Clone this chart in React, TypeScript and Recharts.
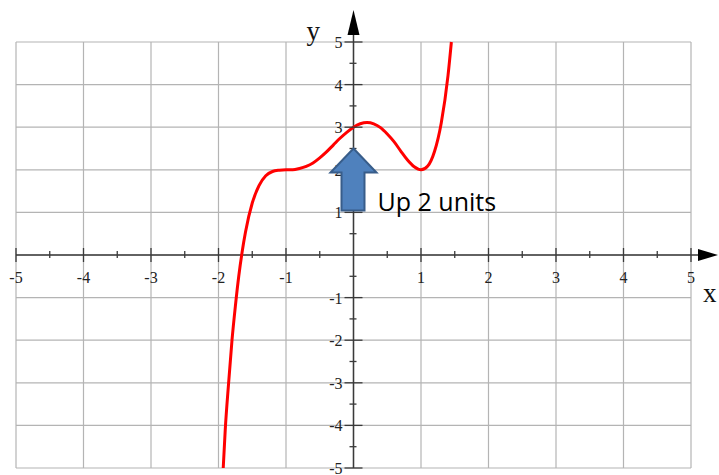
import { LineChart, Line, XAxis, YAxis, CartesianGrid, ReferenceLine, ReferenceDot } from 'recharts';

const W = 719;
const H = 475;

// curve
const X_VALS = [-1.93, -1.9, -1.85, -1.8, -1.75, -1.7, -1.65, -1.6, -1.5, -1.4, -1.3, -1.2, -1.1, -1.0, -0.9, -0.8, -0.7, -0.6, -0.5, -0.4, -0.3, -0.2, -0.1, 0, 0.1, 0.2, 0.3, 0.4, 0.5, 0.6, 0.7, 0.8, 0.9, 1.0, 1.1, 1.2, 1.3, 1.4, 1.45];
const Y_VALS = [-5, -4.1, -3.0, -2.0, -1.2, -0.5, 0.07, 0.54, 1.22, 1.63, 1.86, 1.96, 1.99, 2.0, 2.0, 2.03, 2.08, 2.16, 2.28, 2.42, 2.58, 2.74, 2.88, 3.0, 3.08, 3.11, 3.08, 2.99, 2.84, 2.66, 2.44, 2.23, 2.07, 2.0, 2.09, 2.43, 3.1, 4.21, 5.0];

const GRID_TICKS = [-5, -4, -3, -2, -1, 0, 1, 2, 3, 4, 5];
const LABEL_TICKS = [-5, -4, -3, -2, -1, 1, 2, 3, 4, 5];
const HALF_TICKS = [-4.5, -3.5, -2.5, -1.5, -0.5, 0.5, 1.5, 2.5, 3.5, 4.5];

const data = X_VALS.map((x, i) => ({ x, y: Y_VALS[i] }));

const AXIS = '#3a3a3a';
const SERIF = '"Liberation Serif", "Times New Roman", serif';

function XTick({ cx, cy, label }: any) {
  return (
    <g>
      <line x1={cx} x2={cx} y1={cy - 7} y2={cy + 7} stroke={AXIS} strokeWidth={1.3} />
      <text x={cx} y={cy + 28} textAnchor="middle" fontFamily={SERIF} fontSize={16} fill="#222">{label}</text>
    </g>
  );
}

function YTick({ cx, cy, label }: any) {
  return (
    <g>
      <line x1={cx - 9} x2={cx + 9} y1={cy} y2={cy} stroke={AXIS} strokeWidth={1.3} />
      <text x={cx - 11} y={cy + 6} textAnchor="end" fontFamily={SERIF} fontSize={16} fill="#222">{label}</text>
    </g>
  );
}

function MinorX({ cx, cy }: any) {
  return <line x1={cx} x2={cx} y1={cy - 4} y2={cy + 3} stroke={AXIS} strokeWidth={1.3} />;
}

function MinorY({ cx, cy }: any) {
  return <line x1={cx - 4} x2={cx + 3} y1={cy} y2={cy} stroke={AXIS} strokeWidth={1.3} />;
}

function YArrow({ cx, cy }: any) {
  return (
    <g>
      <line x1={cx} x2={cx} y1={cy} y2={cy - 8} stroke={AXIS} strokeWidth={1.5} />
      <polygon points={`${cx - 6},${cy - 7} ${cx + 6},${cy - 7} ${cx},${cy - 32}`} fill="#000" />
      <text x={cx - 47} y={cy - 2} fontFamily={SERIF} fontSize={27} fill="#111">y</text>
    </g>
  );
}

function XArrow({ cx, cy }: any) {
  return (
    <g>
      <line x1={cx} x2={cx + 8} y1={cy} y2={cy} stroke={AXIS} strokeWidth={1.5} />
      <polygon points={`${cx + 7},${cy - 6} ${cx + 7},${cy + 6} ${cx + 27},${cy}`} fill="#000" />
      <text x={cx + 12} y={cy + 47} fontFamily={SERIF} fontSize={27} fill="#111">x</text>
    </g>
  );
}

// "Up 2 units" block arrow, tip at (cx, cy)
function UpArrow({ cx, cy }: any) {
  const pts = [
    [cx, cy],
    [cx + 23, cy + 24],
    [cx + 11, cy + 24],
    [cx + 11, cy + 62],
    [cx - 12, cy + 62],
    [cx - 12, cy + 24],
    [cx - 23, cy + 24],
  ].map(p => p.join(',')).join(' ');
  return (
    <g>
      <polygon points={pts} fill="#4f81bd" stroke="#385d8a" strokeWidth={2} />
      <text x={cx + 24} y={cy + 62} fontFamily='"Open Sans", sans-serif' fontSize={25} fill="#000">Up 2 units</text>
    </g>
  );
}

export default function App() {
  return (
    <div style={{ position: 'absolute', left: 0, top: 0, width: W, height: H, background: '#fff' }}>
      <LineChart width={W} height={H} data={data} margin={{ top: 42, right: 28, bottom: 7, left: 16 }}>
        <XAxis type="number" dataKey="x" domain={[-5, 5]} ticks={GRID_TICKS} hide />
        <YAxis type="number" domain={[-5, 5]} ticks={GRID_TICKS} hide />
        <CartesianGrid stroke="#b4b4b4" strokeWidth={1.2} />
        <ReferenceLine x={0} stroke={AXIS} strokeWidth={1.5} />
        <ReferenceLine y={0} stroke={AXIS} strokeWidth={1.5} />
        {HALF_TICKS.map(t => (
          <ReferenceDot key={'mx' + t} x={t} y={0} r={0} shape={(p: any) => <MinorX {...p} />} />
        ))}
        {HALF_TICKS.map(t => (
          <ReferenceDot key={'my' + t} x={0} y={t} r={0} shape={(p: any) => <MinorY {...p} />} />
        ))}
        {LABEL_TICKS.map(t => (
          <ReferenceDot key={'x' + t} x={t} y={0} r={0} shape={(p: any) => <XTick {...p} label={t} />} />
        ))}
        {LABEL_TICKS.map(t => (
          <ReferenceDot key={'y' + t} x={0} y={t} r={0} shape={(p: any) => <YTick {...p} label={t} />} />
        ))}
        <ReferenceDot x={0} y={5} r={0} shape={(p: any) => <YArrow {...p} />} />
        <ReferenceDot x={5} y={0} r={0} shape={(p: any) => <XArrow {...p} />} />
        <Line type="monotone" dataKey="y" stroke="#ff0000" strokeWidth={3} dot={false} isAnimationActive={false} />
        <ReferenceDot x={0} y={2.5} r={0} shape={(p: any) => <UpArrow {...p} />} />
      </LineChart>
    </div>
  );
}
